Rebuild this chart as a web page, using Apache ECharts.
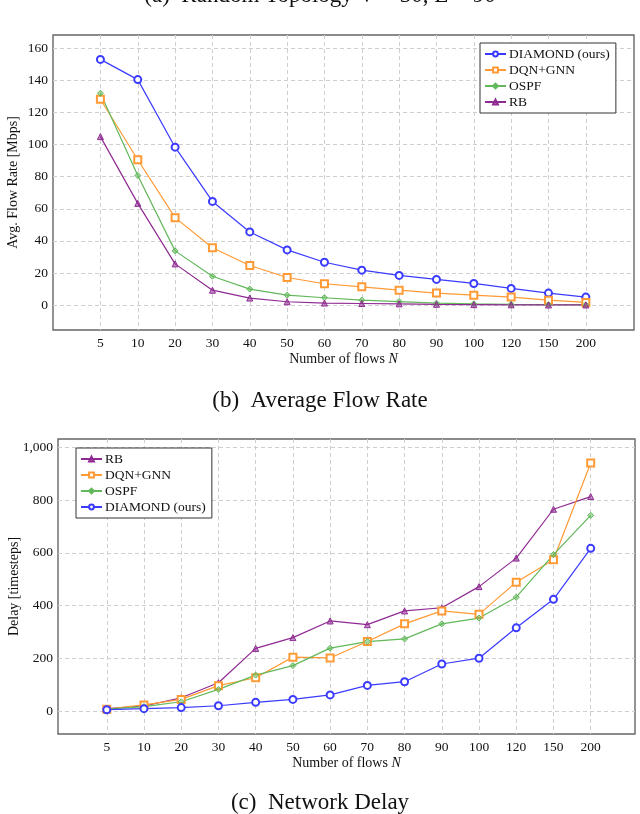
<!DOCTYPE html>
<html>
<head>
<meta charset="utf-8">
<script src="https://cdn.jsdelivr.net/npm/echarts@6/dist/echarts.min.js"></script>
<style>html,body{margin:0;padding:0;background:#fff;}#c{width:640px;height:814px;}</style>
</head>
<body>
<div id="c"></div>
<script>
const categories = ['5','10','20','30','40','50','60','70','80','90','100','120','150','200'];

// (b) Average Flow Rate [Mbps]
const rateDiamond = [153.1, 140.5, 98.4, 64.6, 45.6, 34.4, 26.7, 21.8, 18.5, 16.0, 13.5, 10.4, 7.5, 5.0];
const rateDqn     = [128.3, 90.6, 54.5, 35.7, 24.7, 17.2, 13.3, 11.4, 9.3, 7.5, 6.2, 5.0, 3.1, 1.7];
const rateOspf    = [132.0, 80.8, 33.8, 18.0, 10.0, 6.2, 4.6, 3.1, 2.2, 1.2, 0.8, 0.5, 0.3, 0.2];
const rateRb      = [105.0, 63.4, 25.7, 9.3, 4.4, 2.1, 1.3, 1.0, 0.8, 0.5, 0.3, 0.2, 0.1, 0.1];
const rateTicks   = [0, 20, 40, 60, 80, 100, 120, 140, 160];

// (c) Network Delay [timesteps]
const delayRb      = [10, 20, 51, 108, 238, 279, 342, 328, 380, 392, 472, 580, 765, 813];
const delayDqn     = [8, 24, 45, 97, 127, 205, 202, 264, 331, 380, 367, 489, 574, 940];
const delayOspf    = [8, 18, 36, 83, 137, 173, 239, 264, 274, 331, 353, 432, 593, 742];
const delayDiamond = [6, 10, 14, 21, 34, 45, 62, 98, 112, 179, 201, 316, 424, 617];
const delayTicks   = [0, 200, 400, 600, 800, 1000];

const catIdx = categories.map((c, i) => i);
const FONT = 'Liberation Serif';
const COLORS = {
  'DIAMOND (ours)': '#3b3bff',
  'DQN+GNN': '#ff9a35',
  'OSPF': '#62b85a',
  'RB': '#8e2a92'
};
const SYMBOLS = {
  'DIAMOND (ours)': ['emptyCircle', 7],
  'DQN+GNN': ['emptyRect', 7],
  'OSPF': ['diamond', 6],
  'RB': ['triangle', 6]
};

function mkSeries(name, values, gi) {
  const col = COLORS[name];
  const s = SYMBOLS[name];
  const filled = !s[0].startsWith('empty');
  return {
    name: name,
    type: 'line',
    xAxisIndex: gi, yAxisIndex: gi,
    data: values.map((v, i) => [i, v]),
    symbol: s[0], symbolSize: s[1],
    color: col,
    lineStyle: { color: col, width: 1.2 },
    itemStyle: filled ? { color: col + '88', borderColor: col, borderWidth: 1 } : { color: col, borderColor: col, borderWidth: 1.2 },
    emphasis: { disabled: true },
    animation: false,
    z: 3
  };
}

function xAxis(gi, min, max) {
  return {
    type: 'value', gridIndex: gi, min: min, max: max,
    name: 'Number of flows {i|N}', nameLocation: 'middle', nameGap: 22,
    nameTextStyle: { fontFamily: FONT, fontSize: 14, color: '#111',
      rich: { i: { fontFamily: FONT, fontSize: 14, fontStyle: 'italic', color: '#111' } } },
    axisLine: { show: false },
    axisTick: { show: false, customValues: catIdx },
    axisLabel: { customValues: catIdx, margin: 6, fontFamily: FONT, fontSize: 13.5, color: '#111',
      formatter: v => categories[Math.round(v)] },
    splitLine: { show: true, lineStyle: { color: '#cfcfcf', type: [4, 3], width: 1 } }
  };
}
function yAxis(gi, min, max, ticks, name, gap, fmt) {
  return {
    type: 'value', gridIndex: gi, min: min, max: max,
    name: name, nameLocation: 'middle', nameGap: gap, nameRotate: 90, nameMoveOverlap: false,
    nameTextStyle: { fontFamily: FONT, fontSize: 14, color: '#111' },
    axisLine: { show: false },
    axisTick: { show: false, customValues: ticks },
    axisLabel: { customValues: ticks, margin: 5, fontFamily: FONT, fontSize: 13.5, color: '#111', formatter: fmt },
    splitLine: { show: true, lineStyle: { color: '#cfcfcf', type: [4, 3], width: 1 } }
  };
}
function legend(names, left, top) {
  return {
    data: names.map(n => ({ name: n })),
    orient: 'vertical', left: left, top: top,
    itemWidth: 21, itemHeight: 6, itemGap: 2,
    padding: [4, 6, 4, 4],
    borderColor: '#333', borderWidth: 1, backgroundColor: '#fff',
    textStyle: { fontFamily: FONT, fontSize: 13.5, color: '#111', lineHeight: 14, padding: [0, 0, 0, -2] },
    selectedMode: false
  };
}

const chart = echarts.init(document.getElementById('c'), null, { renderer: 'canvas' });
chart.setOption({
  animation: false,
  backgroundColor: '#fff',
  title: [
    { text: '(a)  Random Topology V = 30, E = 90', left: 'center', top: -21,
      textStyle: { fontFamily: FONT, fontSize: 23, fontWeight: 'normal', color: '#111' } },
    { text: '(b)  Average Flow Rate', left: 'center', top: 384,
      textStyle: { fontFamily: FONT, fontSize: 23, fontWeight: 'normal', color: '#111' } },
    { text: '(c)  Network Delay', left: 'center', top: 786,
      textStyle: { fontFamily: FONT, fontSize: 23, fontWeight: 'normal', color: '#111' } }
  ],
  grid: [
    { left: 53, top: 35, width: 581, height: 295, outerBoundsMode: 'none', containLabel: false,
      show: true, borderColor: '#666', borderWidth: 1.4, backgroundColor: 'transparent' },
    { left: 58, top: 439, width: 577, height: 295, outerBoundsMode: 'none', containLabel: false,
      show: true, borderColor: '#666', borderWidth: 1.4, backgroundColor: 'transparent' }
  ],
  xAxis: [ xAxis(0, -1.27, 14.29), xAxis(1, -1.31, 14.19) ],
  yAxis: [
    yAxis(0, -15.5, 168.3, rateTicks, 'Avg. Flow Rate [Mbps]', 33, v => String(v)),
    yAxis(1, -86, 1031, delayTicks, 'Delay [timesteps]', 37, v => v >= 1000 ? '1,000' : String(v))
  ],
  legend: [
    legend(['DIAMOND (ours)', 'DQN+GNN', 'OSPF', 'RB'], 480, 43),
    legend(['RB', 'DQN+GNN', 'OSPF', 'DIAMOND (ours)'], 76, 448)
  ],
  series: [
    mkSeries('DIAMOND (ours)', rateDiamond, 0),
    mkSeries('DQN+GNN', rateDqn, 0),
    mkSeries('OSPF', rateOspf, 0),
    mkSeries('RB', rateRb, 0),
    mkSeries('RB', delayRb, 1),
    mkSeries('DQN+GNN', delayDqn, 1),
    mkSeries('OSPF', delayOspf, 1),
    mkSeries('DIAMOND (ours)', delayDiamond, 1)
  ]
});
</script>
</body>
</html>
